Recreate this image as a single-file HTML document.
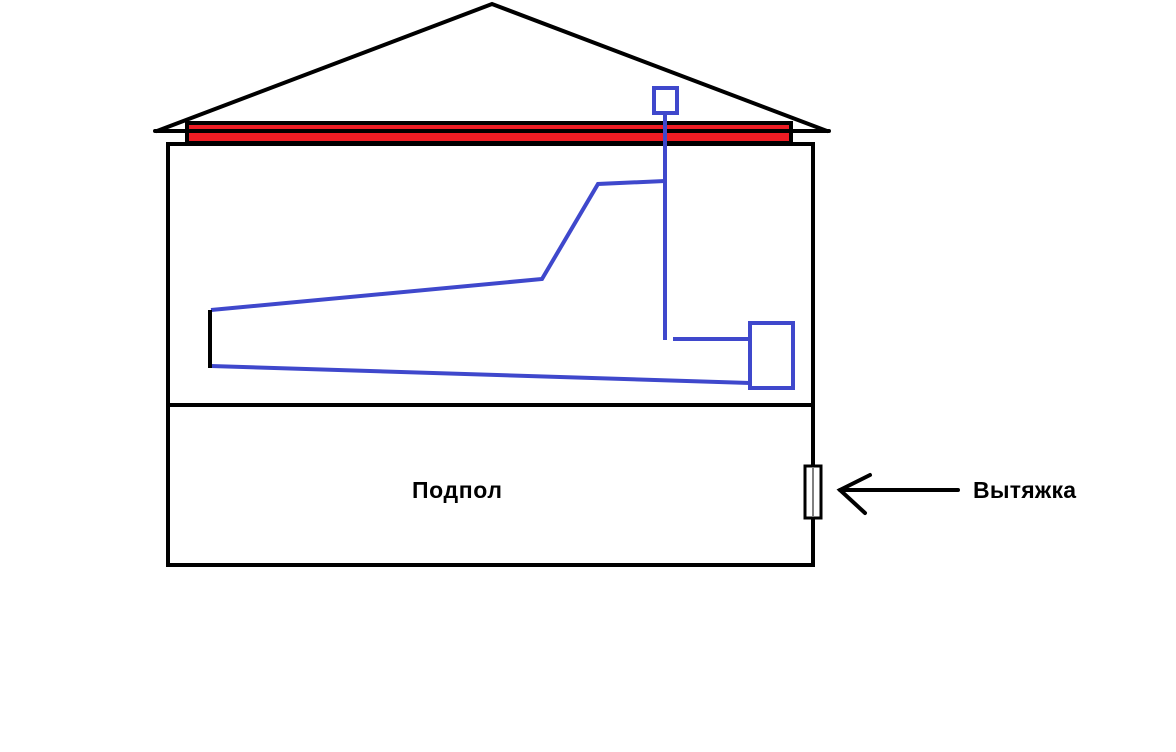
<!DOCTYPE html>
<html><head><meta charset="utf-8"><style>html,body{margin:0;padding:0;background:#fff}svg{display:block}</style></head>
<body>
<svg width="1176" height="752" viewBox="0 0 1176 752" xmlns="http://www.w3.org/2000/svg">
<rect width="1176" height="752" fill="#fff"/>
<g stroke="#000" stroke-width="4" fill="none" stroke-linecap="round">
<polyline points="157,131 492,4 827,131"/>
</g>
<rect x="187" y="123" width="604" height="20" fill="#ee1c24" stroke="#000" stroke-width="4"/>
<line x1="155" y1="131" x2="829" y2="131" stroke="#000" stroke-width="4" stroke-linecap="round"/>
<rect x="168" y="144" width="645" height="421" fill="none" stroke="#000" stroke-width="4"/>
<line x1="168" y1="405" x2="815" y2="405" stroke="#000" stroke-width="4"/>
<g stroke="#3f48cc" stroke-width="4" fill="none">
<rect x="654" y="88" width="23" height="25"/>
<line x1="665" y1="113" x2="665" y2="340"/>
<polyline points="665,181 598,184 542,279 211,310"/>
<line x1="211" y1="366" x2="750" y2="383"/>
<line x1="673" y1="339" x2="750" y2="339"/>
<rect x="750" y="323" width="43" height="65"/>
</g>
<line x1="210" y1="310" x2="210" y2="368" stroke="#000" stroke-width="4"/>
<rect x="805" y="466" width="16" height="52" fill="#fff" stroke="#000" stroke-width="3"/>
<line x1="813" y1="468" x2="813" y2="516" stroke="#000" stroke-width="1"/>
<g stroke="#000" stroke-width="4" fill="none" stroke-linecap="round">
<line x1="840" y1="490" x2="958" y2="490"/>
<polyline points="870,475 840,490 865,513"/>
</g>
<g font-family="Liberation Sans, sans-serif" font-weight="bold" font-size="23" fill="#000">
<text x="412" y="498" textLength="90">Подпол</text>
<text x="973" y="498" textLength="103">Вытяжка</text>
</g>
</svg>
</body></html>
